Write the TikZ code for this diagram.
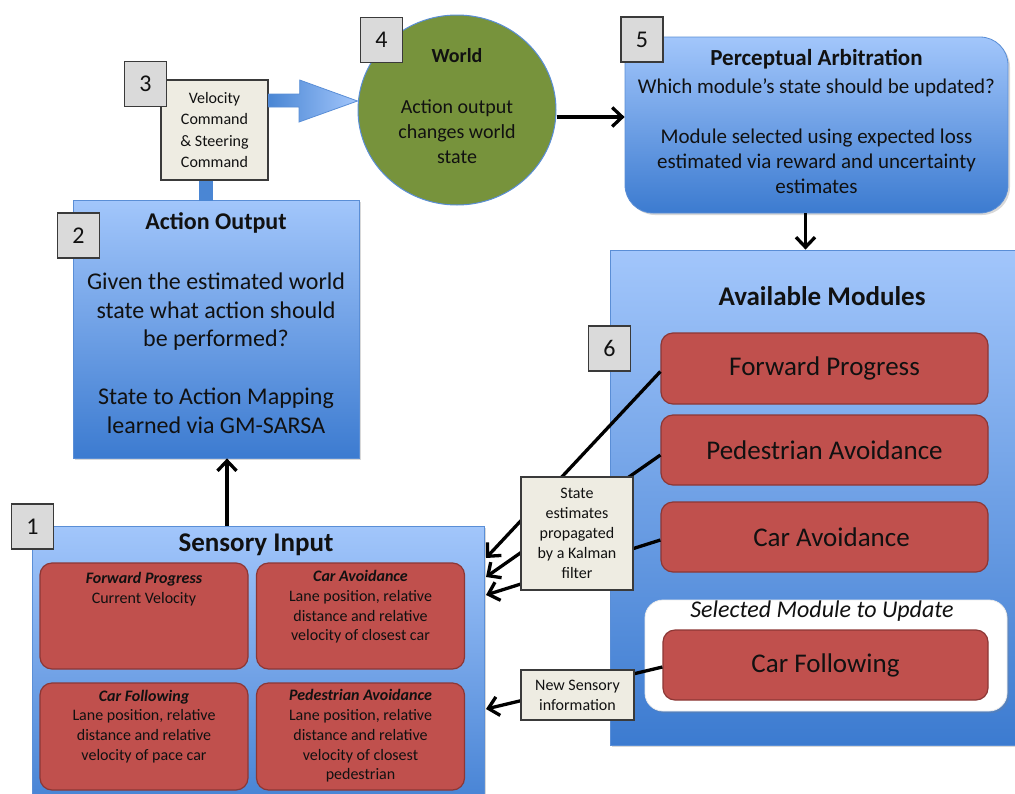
\documentclass[tikz,border=0pt]{standalone}
\usepackage{fontspec}
\setmainfont{Carlito}
\usetikzlibrary{arrows.meta,shapes.geometric,shadows}
\definecolor{bTop}{HTML}{A2C6FB}
\definecolor{bBot}{HTML}{3C7BD0}
\definecolor{bBord}{HTML}{5A8ED6}
\definecolor{redF}{HTML}{C0504D}
\definecolor{redB}{HTML}{8C3735}
\definecolor{oliveF}{HTML}{77933C}
\definecolor{noteF}{HTML}{EEECE2}
\definecolor{numF}{HTML}{DADADA}
\definecolor{darkB}{HTML}{3A3A3A}
\definecolor{connB}{HTML}{4A86D4}
\definecolor{txt}{HTML}{111111}
\newcommand{\fsz}[2]{\fontsize{#1}{#2}\selectfont}
\tikzset{
  bluebox/.style={draw=bBord, line width=0.8pt, top color=bTop, bottom color=bBot, inner sep=0pt,
    drop shadow={opacity=0.3, shadow xshift=2pt, shadow yshift=-2pt}},
  redbox/.style={fill=redF, draw=redB, line width=1.2pt, rounded corners=12pt, inner sep=0pt},
  numbox/.style={fill=numF, draw=darkB, line width=1.4pt, minimum width=42, minimum height=45, inner sep=0pt, font=\fsz{24}{28}, text=txt},
  notebox/.style={fill=noteF, draw=darkB, line width=1.3pt, inner sep=0pt, align=center, text=txt, font=\fsz{16}{20}},
  arr/.style={line width=3.3pt, black, -{Straight Barb[length=10pt,width=19pt]}},
  lbl/.style={align=center, text=txt, inner sep=0pt}
}
\begin{document}
\begin{tikzpicture}[x=1pt,y=-1pt]
\useasboundingbox (0,0) rectangle (1015,793);
\fill[white] (0,0) rectangle (1015,793);
\clip (0,0) rectangle (1015,793);

% big blue boxes
\node[bluebox, minimum width=286, minimum height=258] (act) at (216,329) {};
\node[bluebox, minimum width=452, minimum height=310] (sens) at (258,681) {};
\node[bluebox, minimum width=420, minimum height=495] (avail) at (820,497.5) {};
\node[bluebox, rounded corners=28pt, minimum width=383, minimum height=176] (perc) at (816.5,125) {};
\node[ellipse, fill=oliveF, draw=bBord, line width=1pt, minimum width=198, minimum height=190, inner sep=0pt] (world) at (457,110) {};

% connector and big arrow from velocity box
\node[notebox, minimum width=107, minimum height=100] (vel) at (214.5,130) {};
\draw[connB, line width=14pt] ([xshift=-8.5pt]vel.south) -- ++(0,20);
\path[draw=bBord, line width=0.8pt, left color=connB, right color=bTop]
  ([yshift=36pt]vel.east) -- ++(31,0) -- ++(0,-14) -- (world.west |- 0,101) -- (299,122) -- (299,107) -- ([yshift=23pt]vel.east) -- cycle;

% red boxes in sensory input
\node[redbox, minimum width=208, minimum height=106] (sfp) at (144,616) {};
\node[redbox, minimum width=208, minimum height=106] (sca) at (360.5,616) {};
\node[redbox, minimum width=208, minimum height=107] (scf) at (144,736.5) {};
\node[redbox, minimum width=208, minimum height=107] (spa) at (360.5,736.5) {};

% modules
\node[redbox, minimum width=327, minimum height=71] (mfp) at (824.5,368.5) {};
\node[redbox, minimum width=327, minimum height=70] (mpa) at (824.5,450) {};
\node[redbox, minimum width=327, minimum height=70] (mca) at (824.5,537) {};
\node[fill=white, draw=white!85!gray, line width=0.8pt, rounded corners=18pt, minimum width=362, minimum height=111, inner sep=0pt,
  drop shadow={opacity=0.25, shadow xshift=2pt, shadow yshift=-2pt}] (sel) at (826,655.5) {};
\node[redbox, minimum width=325, minimum height=70] (mcf) at (825.5,665) {};

% black arrows
\coordinate (t1) at (486,558);
\coordinate (t2) at (486,577);
\coordinate (t3) at (486,595);
\coordinate (t4) at (486,709);
\draw[arr] ([yshift=-3pt]mfp.west) -- (t1);
\draw[arr] ([yshift=-5pt]mpa.west) -- (t2);
\draw[arr] ([yshift=-3pt]mca.west) -- (t3);
\draw[arr] ([yshift=-2pt]mcf.west) -- (t4);
\draw[arr] ([xshift=-31pt]sens.north) -- ([xshift=-31pt]sens.north |- act.south);
\draw[arr] ([yshift=-7pt]world.east) -- ([yshift=-7pt]world.east -| perc.west);
\draw[arr] ([xshift=-11pt]perc.south) -- ([xshift=-11pt]perc.south |- avail.north);

% note boxes
\node[notebox, minimum width=112, minimum height=113] (kal) at (577,533.5)
  {State\\estimates\\propagated\\by a Kalman\\filter};
\node[notebox, minimum width=113, minimum height=50] (nsi) at (577.5,695)
  {New Sensory\\information};
\node[lbl, font=\fsz{16}{21.3}] (veltxt) at (vel.center) {Velocity\\Command\\\& Steering\\Command};

% number boxes
\node[numbox] (n1) at (32.5,526.5) {1};
\node[numbox] (n2) at (78.5,235.5) {2};
\node[numbox] (n3) at (145.5,84) {3};
\node[numbox] (n4) at (381.5,40) {4};
\node[numbox] (n5) at (642,39.5) {5};
\node[numbox] (n6) at (609.5,348.5) {6};

% texts
\node[lbl, font=\fsz{24}{28}\bfseries] (actt) at (216,223) {Action Output};
\node[lbl, font=\fsz{24}{28.8}] (actb) at (216,353)
  {Given the estimated world\\state what action should\\be performed?\\[28.8pt]State to Action Mapping\\learned via GM-SARSA};
\node[lbl, font=\fsz{20}{25}\bfseries] (wt) at (457,56) {World};
\node[lbl, font=\fsz{20}{25}] (wb) at (457,132) {Action output\\changes world\\state};
\node[lbl, font=\fsz{23}{27}\bfseries] (pt) at (816.5,59) {Perceptual Arbitration};
\node[lbl, font=\fsz{21}{25}] (pb) at (816.5,136)
  {Which module’s state should be updated?\\[25pt]Module selected using expected loss\\estimated via reward and uncertainty\\estimates};
\node[lbl, font=\fsz{27}{32}\bfseries] (st) at (256,545) {Sensory Input};
\node[lbl, font=\fsz{16}{19.7}] (sfpt) at (144,589) {\textbf{\textit{Forward Progress}}\\Current Velocity};
\node[lbl, font=\fsz{16}{19.7}] (scat) at (360.5,607) {\textbf{\textit{Car Avoidance}}\\Lane position, relative\\distance and relative\\velocity of closest car};
\node[lbl, font=\fsz{16}{19.7}] (scft) at (144,726.5) {\textbf{\textit{Car Following}}\\Lane position, relative\\distance and relative\\velocity of pace car};
\node[lbl, font=\fsz{16}{19.7}] (spat) at (360.5,736) {\textbf{\textit{Pedestrian Avoidance}}\\Lane position, relative\\distance and relative\\velocity of closest\\pedestrian};
\node[lbl, font=\fsz{27}{32}\bfseries] (avt) at (822,296) {Available Modules};
\node[lbl, font=\fsz{27}{32}] at (mfp.center) {Forward Progress};
\node[lbl, font=\fsz{27}{32}] at (mpa.center) {Pedestrian Avoidance};
\node[lbl, font=\fsz{27}{32}] at ([xshift=7pt]mca.center) {Car Avoidance};
\node[lbl, font=\fsz{24}{28}\itshape] (selt) at (822,611) {Selected Module to Update};
\node[lbl, font=\fsz{27}{32}] at (mcf.center) {Car Following};
\end{tikzpicture}
\end{document}
